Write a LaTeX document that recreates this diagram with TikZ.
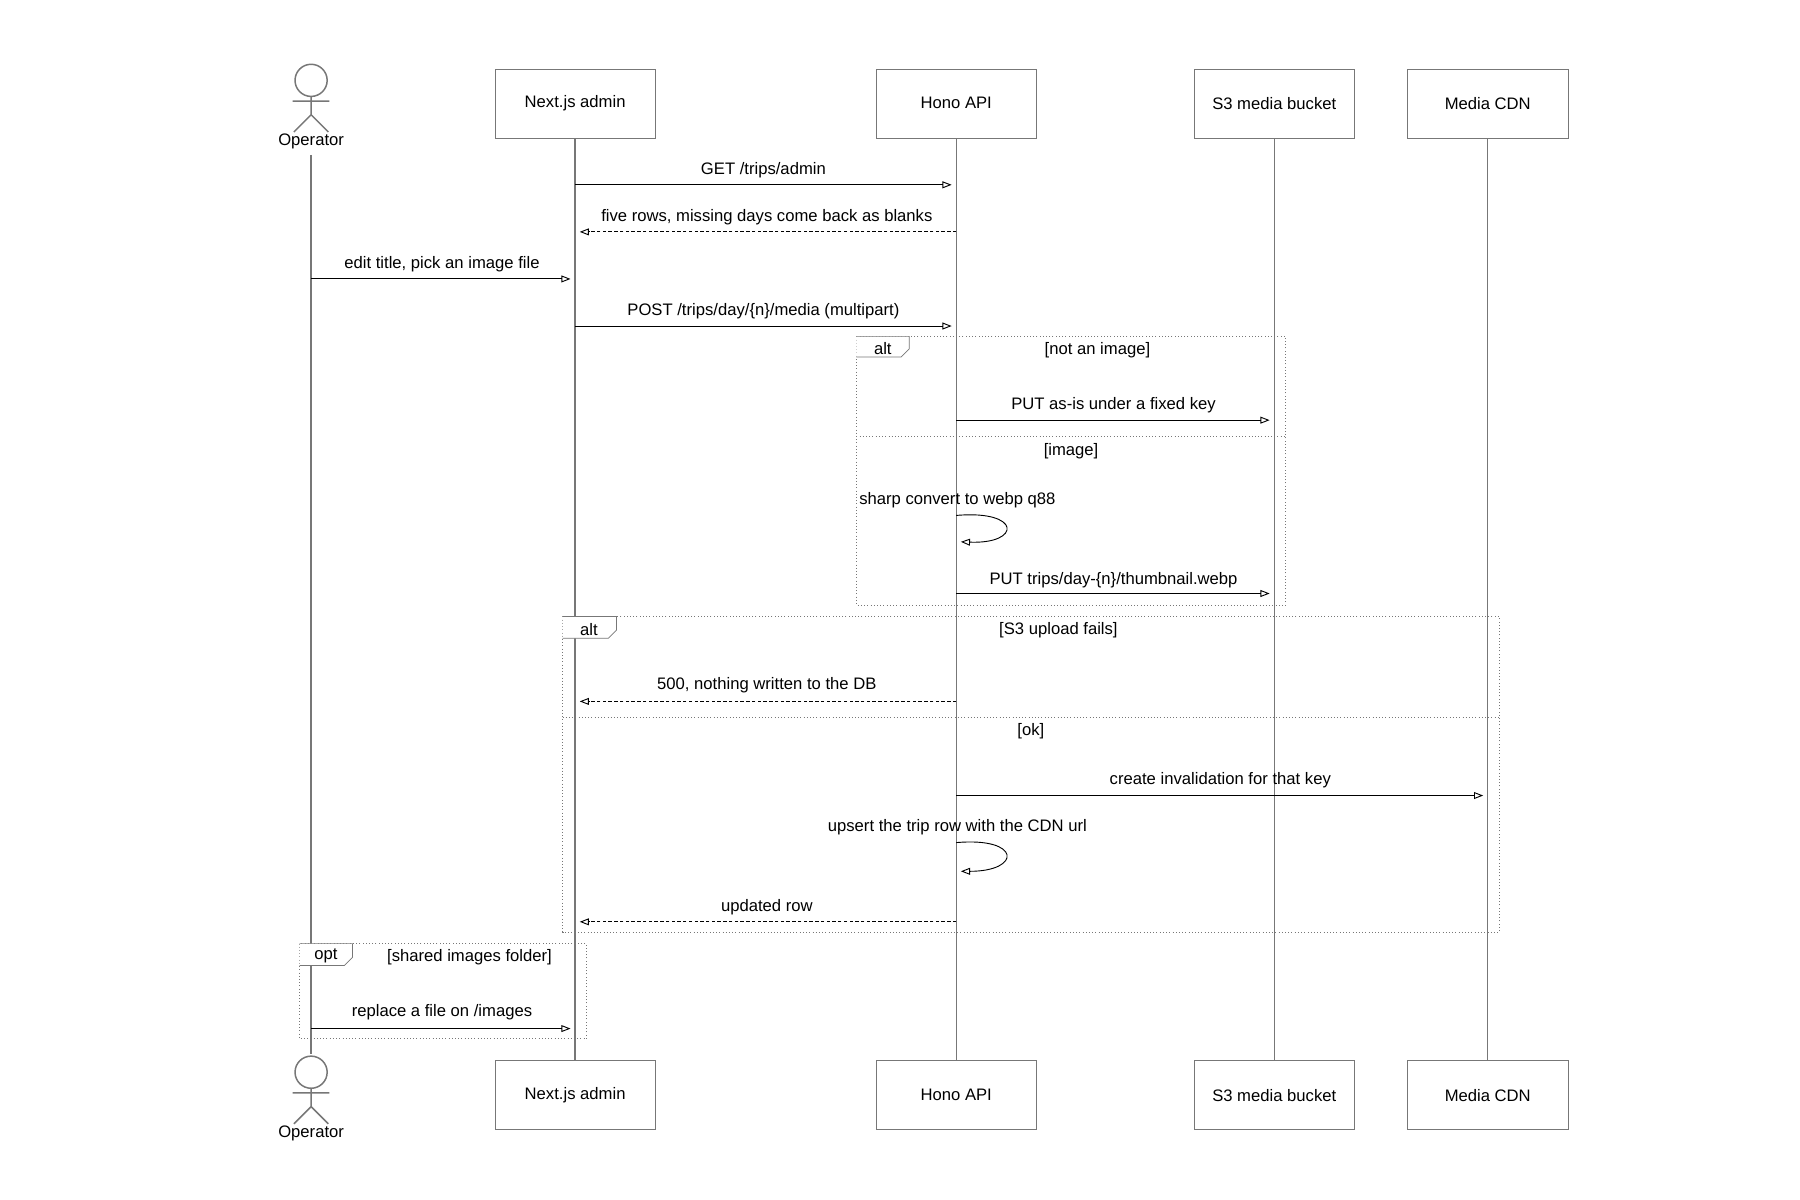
\documentclass[tikz,border=0pt]{standalone}
\usepackage{fontspec}
\setmainfont{Liberation Sans}
\usetikzlibrary{arrows.meta}
\definecolor{ln}{HTML}{777777}
\begin{document}
\begin{tikzpicture}[x=1pt,y=-1pt,
  box/.style={draw=ln,fill=white,minimum width=140pt,minimum height=60pt,font=\fontsize{14.5}{16}\selectfont},
  life/.style={draw=ln,line width=1.2pt},
  msg/.style={draw=black,line width=0.8pt,-{Triangle[open,length=8pt,width=6pt]}},
  ret/.style={msg,dash pattern=on 3pt off 2pt},
  lab/.style={font=\fontsize{14.5}{16}\selectfont,inner sep=0pt},
  frm/.style={draw=ln,dotted,line width=0.8pt},
  tab/.style={draw=ln,fill=white,line width=0.6pt}]
\useasboundingbox (0,0) rectangle (1568,1045.3);
% lifelines
\draw[life] (271,135) -- (271,918);
\foreach \x in {501,833,1110,1296}{\draw[life] (\x,120) -- (\x,924);}
% boxes
\foreach \y in {90,954}{
\node[box] at (501,\y) {Next.js admin};
\node[box] at (833,\y) {Hono API};
\node[box] at (1110,\y) {S3 media bucket};
\node[box] at (1296,\y) {Media CDN};}
% actors
\foreach \t/\n in {0/Operator,864/Operator}{
 \begin{scope}[yshift=-\t pt]
 \draw[ln,line width=1.3pt,fill=white] (271,70) circle (14);
 \draw[ln,line width=1.3pt] (271,84)--(271,100) (255,88)--(287,88) (271,100)--(256,115) (271,100)--(286,115);
 \node[lab] at (271,123) {\n};
 \end{scope}}
% frames
\draw[frm] (746,293) rectangle (1120,527);
\draw[frm] (746,380) -- (1120,380);
\draw[tab] (746,293) -- (792,293) -- (792,304) -- (785,311) -- (746,311);
\node[lab] at (769,304) {alt};
\node[lab] at (956,305) {[not an image]};
\node[lab] at (933,393) {[image]};
\draw[frm] (490,537) rectangle (1306,812);
\draw[frm] (490,625) -- (1306,625);
\draw[tab] (490,537) -- (537,537) -- (537,549) -- (530,556) -- (490,556);
\node[lab] at (513,548) {alt};
\node[lab] at (922,549) {[S3 upload fails]};
\node[lab] at (898,637) {[ok]};
\draw[frm] (261,822) rectangle (511,905);
\draw[tab] (261,822) -- (307,822) -- (307,834) -- (300,841) -- (261,841);
\node[lab] at (284,833) {opt};
\node[lab] at (409,834) {[shared images folder]};
% messages
\draw[msg] (501,161) -- (829,161); \node[lab] at (665,148) {GET /trips/admin};
\draw[ret] (833,202) -- (505,202); \node[lab] at (668,189) {five rows, missing days come back as blanks};
\draw[msg] (271,243) -- (497,243); \node[lab] at (385,230) {edit title, pick an image file};
\draw[msg] (501,284) -- (829,284); \node[lab] at (665,271) {POST /trips/day/\{n\}/media (multipart)};
\draw[msg] (833,366) -- (1106,366); \node[lab] at (970,353) {PUT as-is under a fixed key};
\node[lab] at (834,436) {sharp convert to webp q88};
\draw[msg] (833,449) .. controls (890,444) and (890,474) .. (837,472);
\draw[msg] (833,517) -- (1106,517); \node[lab] at (970,505) {PUT trips/day-\{n\}/thumbnail.webp};
\draw[ret] (833,611) -- (505,611); \node[lab] at (668,597) {500, nothing written to the DB};
\draw[msg] (833,693) -- (1292,693); \node[lab] at (1063,680) {create invalidation for that key};
\node[lab] at (834,721) {upsert the trip row with the CDN url};
\draw[msg] (833,734) .. controls (890,729) and (890,759) .. (837,759);
\draw[ret] (833,803) -- (505,803); \node[lab] at (668,790) {updated row};
\draw[msg] (271,896) -- (497,896); \node[lab] at (385,882) {replace a file on /images};
\end{tikzpicture}
\end{document}
